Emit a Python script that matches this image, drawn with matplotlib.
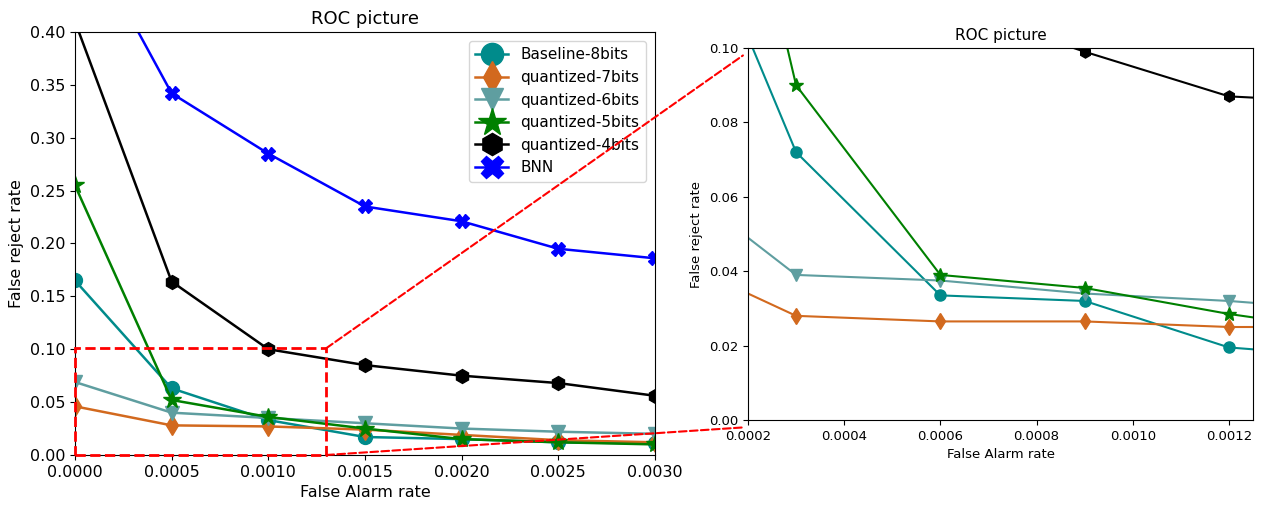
import matplotlib
matplotlib.use("Agg")
import matplotlib.pyplot as plt
from matplotlib.patches import Rectangle, ConnectionPatch

#--------------------------------------#
#data#

names = ["Baseline-8bits", "quantized-7bits", "quantized-6bits",
         "quantized-5bits", "quantized-4bits", "BNN"]
colors = ["darkcyan", "chocolate", "cadetblue", "green", "black", "blue"]
markers = ["o", "d", "v", "*", "h", "X"]

# full view
far_full = [0.0, 0.0005, 0.0010, 0.0015, 0.0020, 0.0025, 0.0030]
frr_8bits = [0.165, 0.063, 0.033, 0.017, 0.015, 0.012, 0.011]
frr_7bits = [0.046, 0.028, 0.027, 0.024, 0.019, 0.014, 0.012]
frr_6bits = [0.069, 0.040, 0.035, 0.030, 0.025, 0.022, 0.020]
frr_5bits = [0.255, 0.052, 0.036, 0.025, 0.015, 0.012, 0.010]
frr_4bits = [0.410, 0.164, 0.100, 0.085, 0.075, 0.068, 0.056]
frr_bnn = [0.510, 0.342, 0.285, 0.235, 0.221, 0.195, 0.186]

# zoomed view
far_zoom = [0.0, 0.0003, 0.0006, 0.0009, 0.0012, 0.0015]
zoom_8bits = [0.165, 0.072, 0.0335, 0.032, 0.0195, 0.0165]
zoom_7bits = [0.046, 0.028, 0.0265, 0.0265, 0.025, 0.025]
zoom_6bits = [0.069, 0.039, 0.0375, 0.034, 0.032, 0.029]
zoom_5bits = [0.255, 0.090, 0.039, 0.0355, 0.0285, 0.023]
zoom_4bits = [0.410, 0.160, 0.112, 0.099, 0.087, 0.085]
zoom_bnn = [0.510, 0.370, 0.300, 0.270, 0.240, 0.235]

full_series = [frr_8bits, frr_7bits, frr_6bits, frr_5bits, frr_4bits, frr_bnn]
zoom_series = [zoom_8bits, zoom_7bits, zoom_6bits, zoom_5bits, zoom_4bits, zoom_bnn]

#--------------------------------------#
#plot#

fig = plt.figure(figsize=(12.62, 5.07), dpi=100)
ax1 = fig.add_axes([0.0594, 0.1026, 0.4596, 0.8343])
ax2 = fig.add_axes([0.5927, 0.1716, 0.4002, 0.7337])

for y, name, c, m in zip(full_series, names, colors, markers):
    ms = 13 if m == "*" else 10
    ax1.plot(far_full, y, color=c, marker=m, markersize=ms, linewidth=1.8, label=name)

ax1.set_xlim(0, 0.003)
ax1.set_ylim(0, 0.4)
ax1.set_xticks([0.0, 0.0005, 0.001, 0.0015, 0.002, 0.0025, 0.003])
ax1.set_xticklabels(["%.4f" % t for t in ax1.get_xticks()])
ax1.set_yticks([0.0, 0.05, 0.1, 0.15, 0.2, 0.25, 0.3, 0.35, 0.4])
ax1.set_yticklabels(["%.2f" % t for t in ax1.get_yticks()])
ax1.tick_params(labelsize=11.5)
ax1.set_xlabel("False Alarm rate", fontsize=11.5)
ax1.set_ylabel("False reject rate", fontsize=11.5)
ax1.set_title("ROC picture", fontsize=13)
ax1.legend(loc="upper right", fontsize=11, markerscale=1.6,
           handlelength=2.2, labelspacing=0.5, borderaxespad=0.6)

for y, name, c, m in zip(zoom_series, names, colors, markers):
    ms = 10 if m == "*" else 8
    ax2.plot(far_zoom, y, color=c, marker=m, markersize=ms, linewidth=1.5, label=name)

ax2.set_xlim(0.0002, 0.00125)
ax2.set_ylim(0, 0.1)
ax2.set_xticks([0.0002, 0.0004, 0.0006, 0.0008, 0.001, 0.0012])
ax2.set_xticklabels(["%.4f" % t for t in ax2.get_xticks()])
ax2.set_yticks([0.0, 0.02, 0.04, 0.06, 0.08, 0.1])
ax2.set_yticklabels(["%.2f" % t for t in ax2.get_yticks()])
ax2.tick_params(labelsize=9.5)
ax2.set_xlabel("False Alarm rate", fontsize=9.5)
ax2.set_ylabel("False reject rate", fontsize=9.5)
ax2.set_title("ROC picture", fontsize=11)

# zoom box and connectors
box = Rectangle((0, 0), 0.0013, 0.101, fill=False, edgecolor="red",
                linestyle="--", linewidth=2, clip_on=False, zorder=5)
ax1.add_patch(box)
for y_from, y_to in [(0.101, 0.98), (0.0, -0.02)]:
    con = ConnectionPatch(xyA=(0.0013, y_from), coordsA=ax1.transData,
                          xyB=(-0.01, y_to), coordsB=ax2.transAxes,
                          color="red", linestyle="--", linewidth=1.5)
    fig.add_artist(con)

fig.savefig("out.png", dpi=100)
